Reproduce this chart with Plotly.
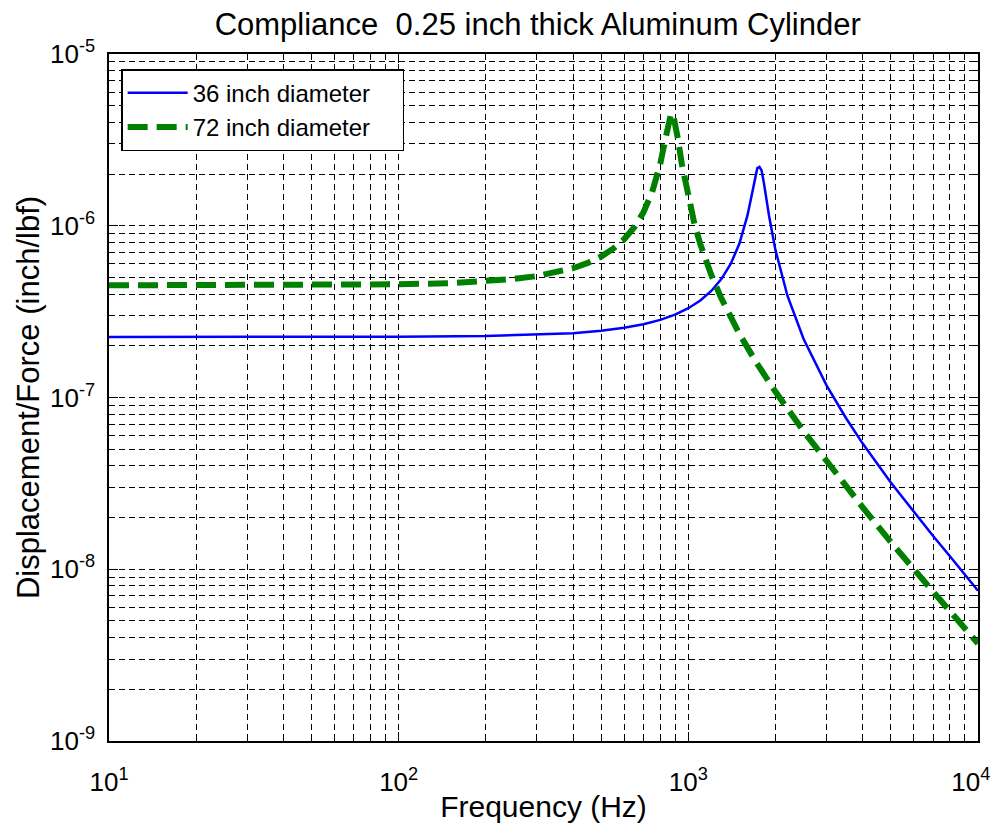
import plotly.graph_objects as go

# 36 inch diameter cylinder
freq_36 = [10, 20, 50, 100, 200, 300, 400, 500, 600, 700, 800, 900, 1000, 1100, 1200,
           1300, 1400, 1500, 1600, 1650, 1700, 1730, 1760, 1790, 1820, 1860, 1900, 2000,
           2200, 2500, 3000, 3500, 4000, 5000, 6000, 7000, 8000, 9000, 10000]
comp_36 = [2.25e-7, 2.25e-7, 2.25e-7, 2.26e-7, 2.28e-7, 2.32e-7, 2.37e-7, 2.45e-7, 2.55e-7,
           2.67e-7, 2.83e-7, 3.04e-7, 3.31e-7, 3.67e-7, 4.17e-7, 4.89e-7, 5.99e-7, 7.85e-7,
           1.148e-6, 1.469e-6, 1.913e-6, 2.165e-6, 2.2e-6, 2.10e-6, 1.807e-6, 1.428e-6,
           1.139e-6, 7.19e-7, 3.90e-7, 2.19e-7, 1.176e-7, 7.60e-8, 5.39e-8, 3.2e-8, 2.15e-8,
           1.56e-8, 1.19e-8, 9.3e-9, 7.5e-9]

# 72 inch diameter cylinder
freq_72 = [10, 50, 100, 150, 200, 250, 300, 350, 400, 450, 500, 550, 600, 650, 700, 750,
           800, 830, 850, 870, 885, 900, 920, 950, 1000, 1050, 1100, 1200, 1300, 1500, 1700,
           2000, 2500, 3000, 4000, 5000, 6000, 7000, 8000, 9000, 10000]
comp_72 = [4.5e-7, 4.52e-7, 4.56e-7, 4.63e-7, 4.75e-7, 4.90e-7, 5.09e-7, 5.34e-7, 5.66e-7,
           6.08e-7, 6.62e-7, 7.35e-7, 8.34e-7, 9.77e-7, 1.198e-6, 1.570e-6, 2.296e-6, 3.10e-6,
           3.83e-6, 4.44e-6, 4.5e-6, 4.01e-6, 3.22e-6, 2.28e-6, 1.439e-6, 1.022e-6, 7.81e-7,
           5.17e-7, 3.78e-7, 2.35e-7, 1.643e-7, 1.079e-7, 6.36e-8, 4.24e-8, 2.29e-8, 1.44e-8,
           9.9e-9, 7.4e-9, 5.7e-9, 4.55e-9, 3.7e-9]

series_names = ["36 inch diameter", "72 inch diameter"]
x_tickvals = [10, 100, 1000, 10000]
x_ticktext = ["10<sup>1</sup>", "10<sup>2</sup>", "10<sup>3</sup>", "10<sup>4</sup>&nbsp;&nbsp;"]
y_tickvals = [1e-9, 1e-8, 1e-7, 1e-6, 1e-5]
y_ticktext = ["10<sup>-9</sup>", "10<sup>-8</sup>", "10<sup>-7</sup>", "10<sup>-6</sup>", "10<sup>-5</sup>"]

FONT = "Liberation Sans, Arial, sans-serif"
PAD = "&nbsp;" * 4  # extra room on the right of the legend text, as in the original box

fig = go.Figure()
fig.add_trace(go.Scatter(x=freq_36, y=comp_36, mode="lines", name=series_names[0] + PAD,
                         line=dict(color="#0000FF", width=2.5)))
fig.add_trace(go.Scatter(x=freq_72, y=comp_72, mode="lines", name=series_names[1] + PAD,
                         line=dict(color="#008000", width=6, dash="20px,9px")))

axis_common = dict(
    type="log", automargin=False,
    showline=True, linecolor="black", linewidth=1.5, mirror="ticks",
    ticks="inside", ticklen=9, tickcolor="black", tickwidth=1,
    showgrid=True, gridcolor="black", gridwidth=1, griddash="6px,4px",
    zeroline=False, ticklabeloverflow="allow",
    tickfont=dict(family=FONT, size=26, color="black"),
    minor=dict(dtick="D1", ticks="inside", ticklen=5, tickcolor="black",
               showgrid=True, gridcolor="black", gridwidth=1, griddash="6px,4px"),
)

fig.update_xaxes(**axis_common, range=[1, 4], tickvals=x_tickvals, ticktext=x_ticktext,
                 ticklabelstandoff=17,
                 title=dict(text="Frequency (Hz)", font=dict(family=FONT, size=30, color="black"),
                            standoff=0))
fig.update_yaxes(**axis_common, range=[-9, -5], tickvals=y_tickvals, ticktext=y_ticktext,
                 ticklabelstandoff=7,
                 title=dict(text="Displacement/Force (inch/lbf)",
                            font=dict(family=FONT, size=31, color="black"), standoff=1))

fig.update_layout(
    width=992, height=822,
    margin=dict(l=101, r=22, t=46, b=89, autoexpand=False),
    paper_bgcolor="white", plot_bgcolor="white",
    title=dict(text="Compliance  0.25 inch thick Aluminum Cylinder",
               font=dict(family=FONT, size=31, color="black"),
               x=0.534, xanchor="center", y=0.9805, yanchor="middle"),
    legend=dict(x=0.014, y=0.978, xanchor="left", yanchor="top",
                bgcolor="white", bordercolor="black", borderwidth=1.5,
                font=dict(family=FONT, size=24, color="black"),
                itemwidth=60, tracegroupgap=0),
    showlegend=True,
)

fig.write_html("out.html")
